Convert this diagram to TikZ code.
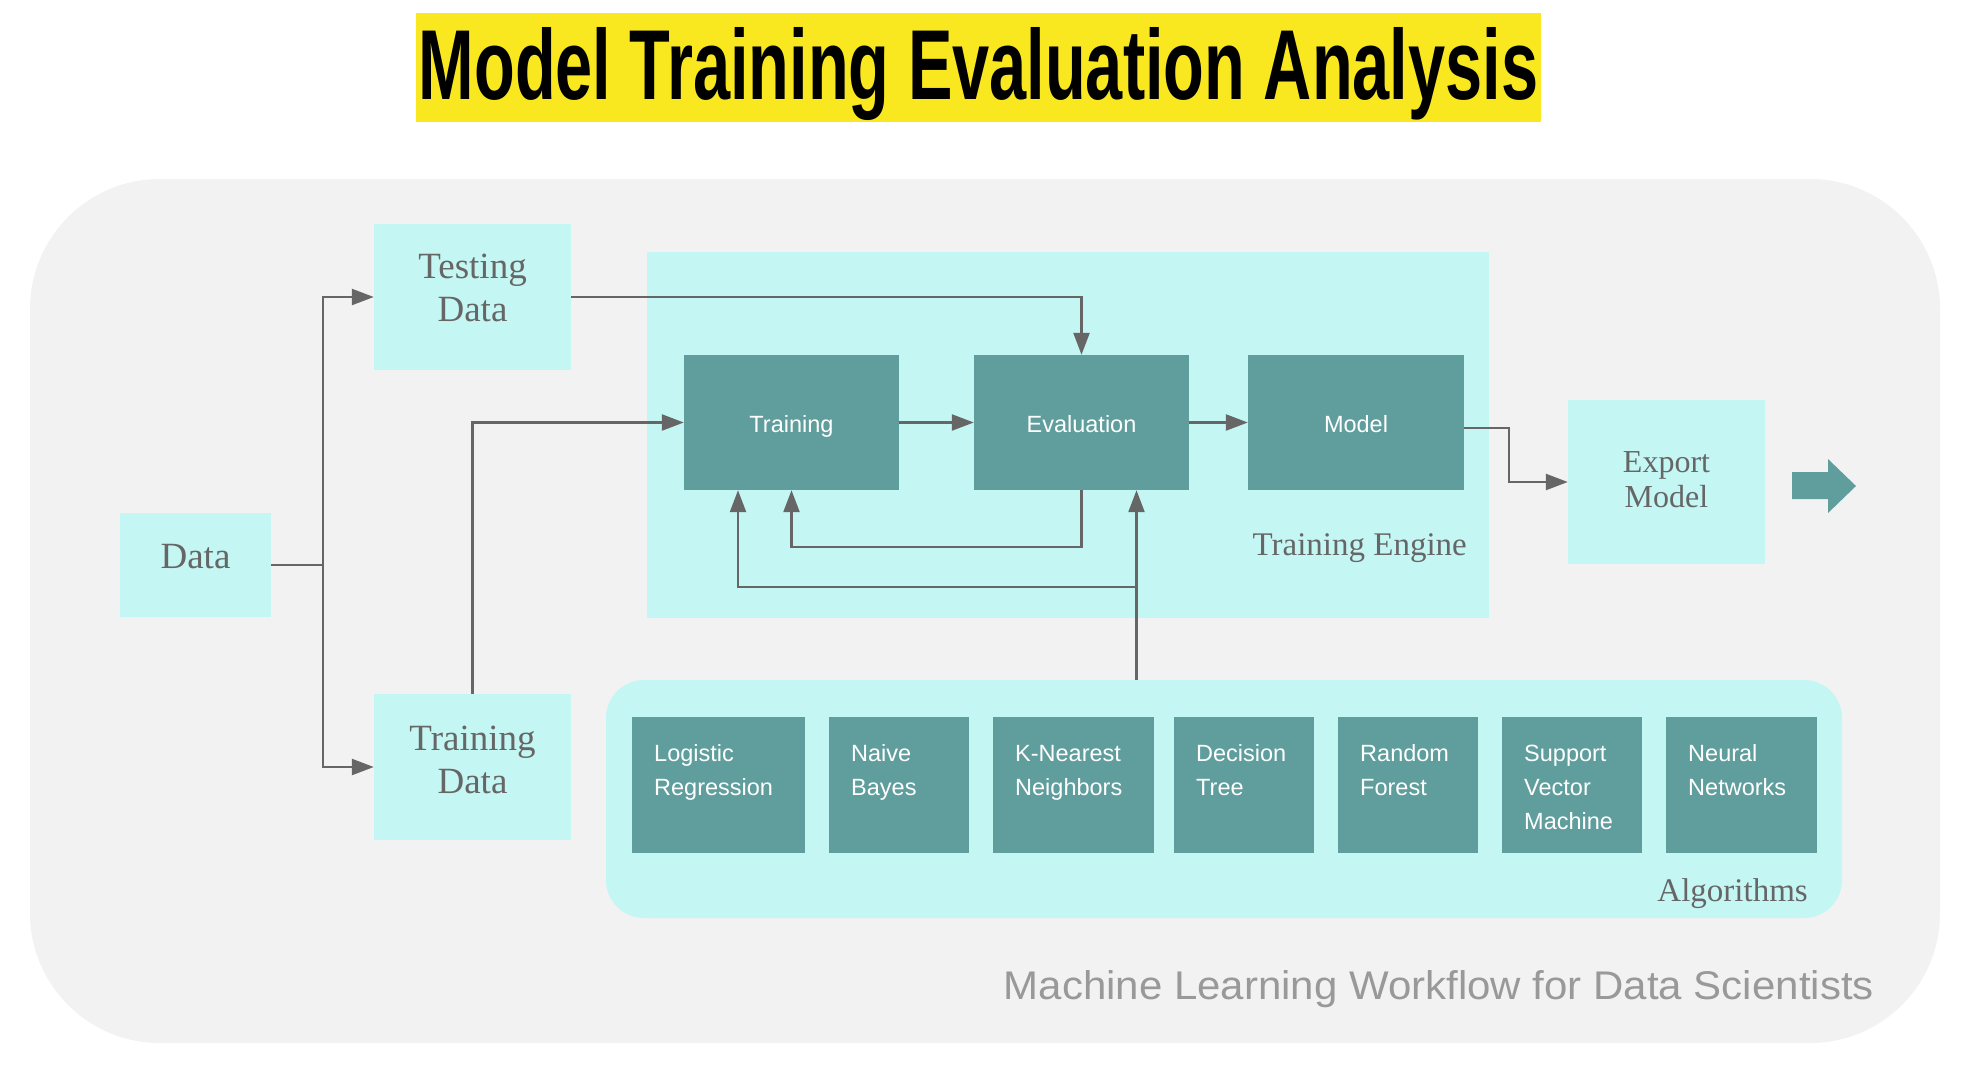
\documentclass[tikz,border=0pt]{standalone}
\usepackage{fontspec}
\usetikzlibrary{arrows.meta}
\newfontfamily\seriff{Liberation Serif}
\newfontfamily\sanss{Liberation Sans}
\newfontfamily\footf[FakeStretch=1.05]{Liberation Sans}
\newfontfamily\titlef{Liberation Sans}
\definecolor{bggray}{HTML}{F2F2F2}
\definecolor{lcyan}{HTML}{C4F6F4}
\definecolor{tealc}{HTML}{5F9E9D}
\definecolor{ylw}{HTML}{F9E81F}
\definecolor{arrgray}{HTML}{666666}
\definecolor{txtgray}{HTML}{666666}
\definecolor{footgray}{HTML}{999999}
\begin{document}
\begin{tikzpicture}[x=1pt,y=-1pt,
  lightbox/.style={fill=lcyan, inner sep=0pt},
  tealbox/.style={fill=tealc, inner sep=0pt, text=white, text height=19pt, text depth=0pt, font=\fontsize{23.5}{28}\selectfont\sanss},
  serlabel/.style={inner sep=0pt, text=txtgray, align=center, font=\fontsize{37}{43}\selectfont\seriff},
  grouplabel/.style={inner sep=0pt, text=txtgray, font=\fontsize{33}{36}\selectfont\seriff},
  algtext/.style={inner sep=0pt, text=white, align=left, anchor=north west, font=\fontsize{23.5}{34}\selectfont\sanss, execute at begin node={\rule{0pt}{17pt}}},
  arr/.style={draw=arrgray, line width=2.4pt, -{Triangle[length=22pt,width=16pt]}},
  ln/.style={draw=arrgray, line width=2.4pt}
]
\useasboundingbox (0,0) rectangle (1975,1085);
\fill[white] (0,0) rectangle (1975,1085);
% title
\fill[ylw] (416,13) rectangle (1541,122);
\node[anchor=base, inner sep=0pt] (title) at (978.5,99) {\resizebox{1119pt}{72pt}{\titlef\bfseries Model Training Evaluation Analysis}};
% outer container
\node[fill=bggray, inner sep=0pt, minimum width=1910pt, minimum height=864pt, rounded corners=130pt] (outer) at (985,611) {};
% group containers
\node[lightbox, minimum width=842pt, minimum height=366pt] (engine) at (1068,435) {};
\node[lightbox, minimum width=1236pt, minimum height=238pt, rounded corners=38pt] (algo) at (1224,799) {};
\node[grouplabel, anchor=base east] (enginelabel) at (1467,555) {Training Engine};
\node[grouplabel, anchor=base east] (algolabel) at (1808,901) {Algorithms};
% light boxes
\node[lightbox, minimum width=151pt, minimum height=104pt] (data) at (195.5,565) {};
\node[serlabel] (datat) at (195.5,557) {Data};
\node[lightbox, minimum width=197pt, minimum height=146pt] (testing) at (472.5,297) {};
\node[serlabel] (testingt) at (472.5,288) {Testing\\Data};
\node[lightbox, minimum width=197pt, minimum height=146pt] (trainingdata) at (472.5,767) {};
\node[serlabel] (trainingdatat) at (472.5,759.5) {Training\\Data};
\node[lightbox, minimum width=197pt, minimum height=164pt] (export) at (1666.5,482) {};
\node[serlabel, font=\fontsize{32}{35}\selectfont\seriff] (exportt) at (1666.5,480) {Export\\Model};
% engine boxes
\node[tealbox, minimum width=215pt, minimum height=135pt] (training) at (791.5,422.5) {Training};
\node[tealbox, minimum width=215pt, minimum height=135pt] (evaluation) at (1081.5,422.5) {Evaluation};
\node[tealbox, minimum width=216pt, minimum height=135pt] (model) at (1356,422.5) {Model};
% algorithm boxes
\node[tealbox, minimum width=173pt, minimum height=136pt] (alg1) at (718.5,785) {};
\node[tealbox, minimum width=140pt, minimum height=136pt] (alg2) at (899,785) {};
\node[tealbox, minimum width=161pt, minimum height=136pt] (alg3) at (1073.5,785) {};
\node[tealbox, minimum width=140pt, minimum height=136pt] (alg4) at (1244,785) {};
\node[tealbox, minimum width=140pt, minimum height=136pt] (alg5) at (1408,785) {};
\node[tealbox, minimum width=140pt, minimum height=136pt] (alg6) at (1572,785) {};
\node[tealbox, minimum width=151pt, minimum height=136pt] (alg7) at (1741.5,785) {};
\node[algtext, text width=151pt] (alg1t) at (654,744) {Logistic\\Regression};
\node[algtext, text width=118pt] (alg2t) at (851,744) {Naive\\Bayes};
\node[algtext, text width=139pt] (alg3t) at (1015,744) {K-Nearest\\Neighbors};
\node[algtext, text width=118pt] (alg4t) at (1196,744) {Decision\\Tree};
\node[algtext, text width=118pt] (alg5t) at (1360,744) {Random\\Forest};
\node[algtext, text width=118pt] (alg6t) at (1524,744) {Support\\Vector\\Machine};
\node[algtext, text width=129pt] (alg7t) at (1688,744) {Neural\\Networks};
% export arrow shape
\fill[tealc] (1792,472) -- (1828,472) -- (1828,459) -- (1856,486) -- (1828,513) -- (1828,499) -- (1792,499) -- cycle;
% footer
\node[anchor=base east, inner sep=0pt, text=footgray, font=\fontsize{40}{44}\selectfont\footf] (footer) at (1874,999) {Machine Learning Workflow for Data Scientists};
% connectors
\coordinate (split) at (323,565);
\coordinate (algtop) at (1136.5,680);
\coordinate (branch) at (1136.5,587);
\draw[ln] (data.east) -- (split);
\draw[arr] (split) |- (testing.west);
\draw[arr] (split) |- (trainingdata.west);
\draw[arr] (trainingdata.north) |- (training.west);
\draw[arr] (testing.east) -| (evaluation.north);
\draw[arr] (training.east) -- (evaluation.west);
\draw[arr] (evaluation.east) -- (model.west);
\draw[arr] ([yshift=-5.5pt]model.east) -- ++(45,0) |- (export.west);
\draw[arr] (evaluation.south) -- ++(0,57) -| (training.south);
\draw[arr] (algtop) -- (algtop |- evaluation.south);
\draw[arr] (branch) -| ([xshift=-53.5pt]training.south);
\end{tikzpicture}
\end{document}
